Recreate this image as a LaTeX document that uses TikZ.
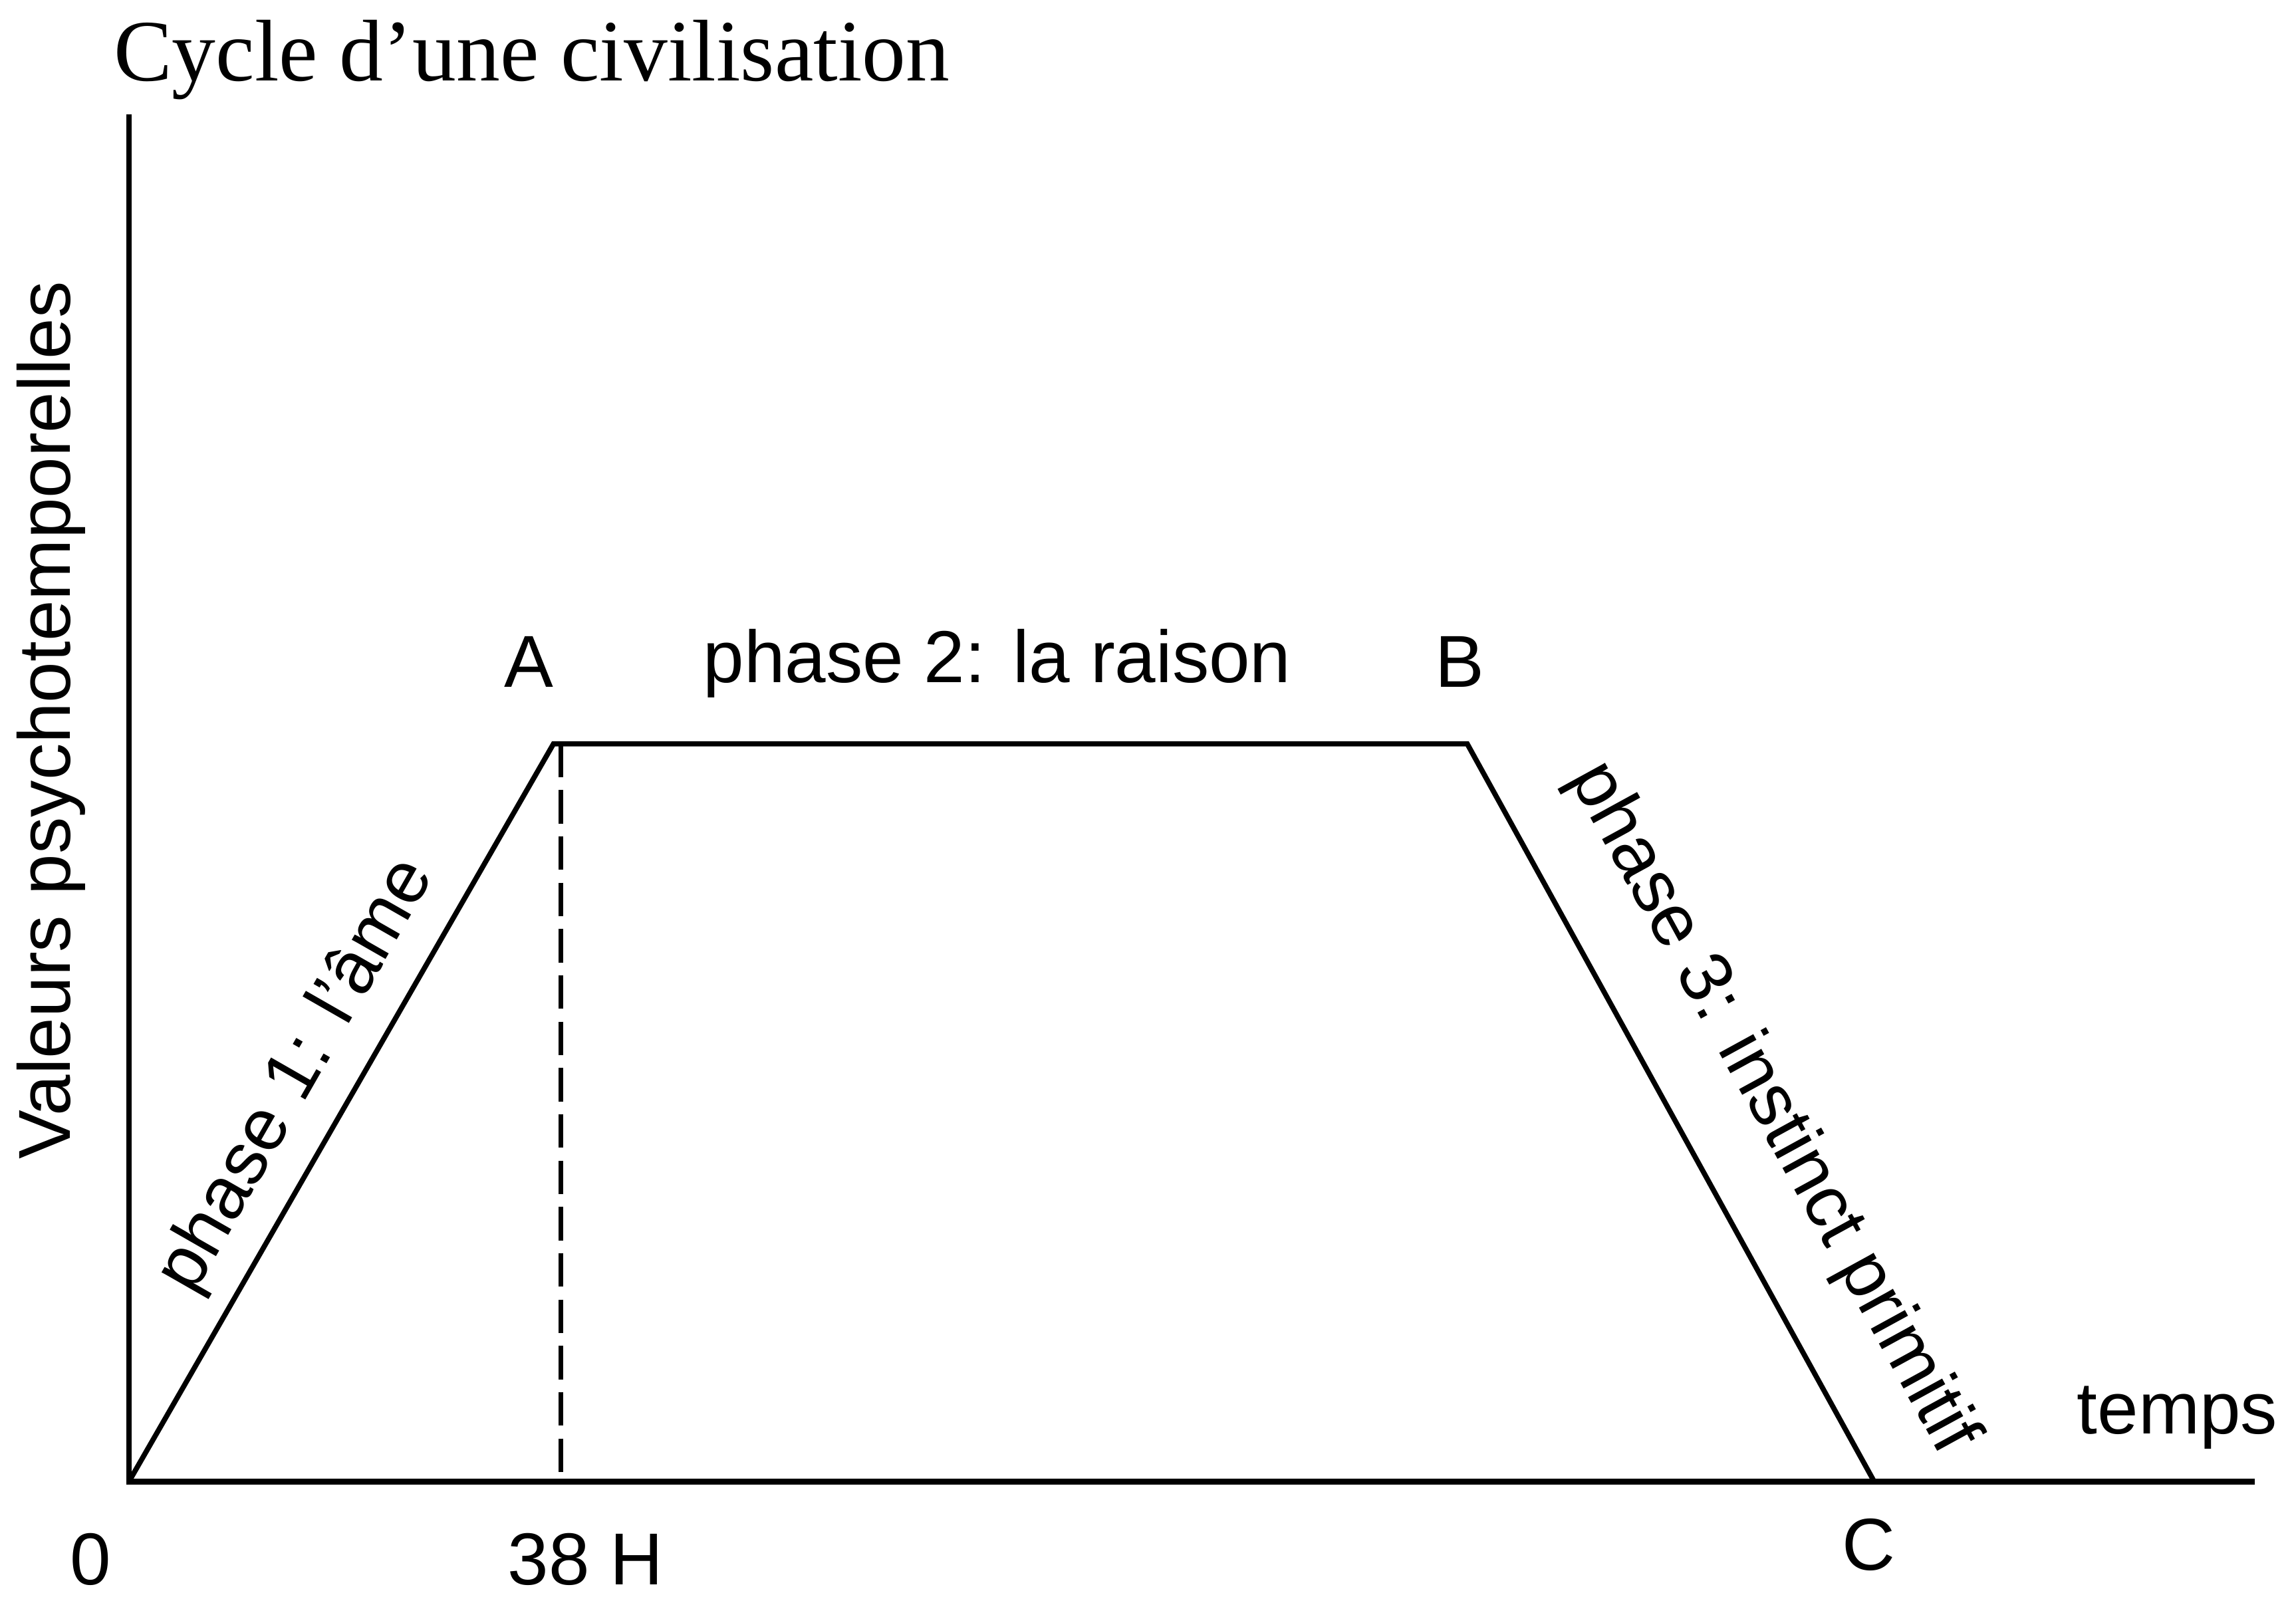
\documentclass[tikz,border=0pt]{standalone}
\usepackage{fontspec}
\setmainfont{Liberation Sans}
\newfontfamily\titlefont{Liberation Serif}
\usepackage{tikz}
\usetikzlibrary{positioning}

\begin{document}
\begin{tikzpicture}[x=0.1mm, y=-0.1mm,
    axis/.style={line width=1.1pt},
    cycleline/.style={line width=1pt, line join=miter},
    guide/.style={line width=1pt, dash pattern=on 6.5pt off 2.5pt},
    lbl/.style={font=\fontsize{14.3}{17}\selectfont, inner sep=0pt}
  ]
    \useasboundingbox (0,0) rectangle (1568,1092);

    % Title
    \node[font=\titlefont\fontsize{17}{20}\selectfont, anchor=base west, inner sep=0pt] (title) at (77,55) {Cycle d’une civilisation};

    % Axes
    \coordinate (O) at (88,1012);
    \coordinate (ytop) at (88,78);
    \coordinate (xend) at (1540,1012);
    \draw[axis] (ytop) -- (O) -- (xend);

    % Cycle points
    \coordinate (A) at (378,508);
    \coordinate (B) at (1002,508);
    \coordinate (C) at (1280,1012);
    \coordinate (Atop) at (383,508);
    \coordinate (H) at (383,1012);
    \draw[cycleline] (O) -- (A) -- (B) -- (C);
    \draw[guide] (Atop) -- (H);

    % Point labels
    \node[lbl] (labA) at (361,452) {A};
    \node[lbl] (labB) at (997,452) {B};
    \node[lbl] (labC) at (1276,1055) {C};
    \node[lbl] (lab0) at (62,1065) {0};
    \node[lbl] (labH) at (400,1065) {38 H};
    \node[lbl] (temps) at (1487,968) {temps};

    % Phase labels
    \node[lbl] (phase2) at (681,453) {phase 2: la raison};
    \node[lbl, rotate=60.2] (phase1) at (203,735) {phase 1: l’âme};
    \node[lbl, rotate=-61.3] (phase3) at (1210,757) {phase 3: instinct primitif};

    % Axis label
    \node[lbl, rotate=90] (ylab) at (35,492) {Valeurs psychotemporelles};

\end{tikzpicture}
\end{document}
